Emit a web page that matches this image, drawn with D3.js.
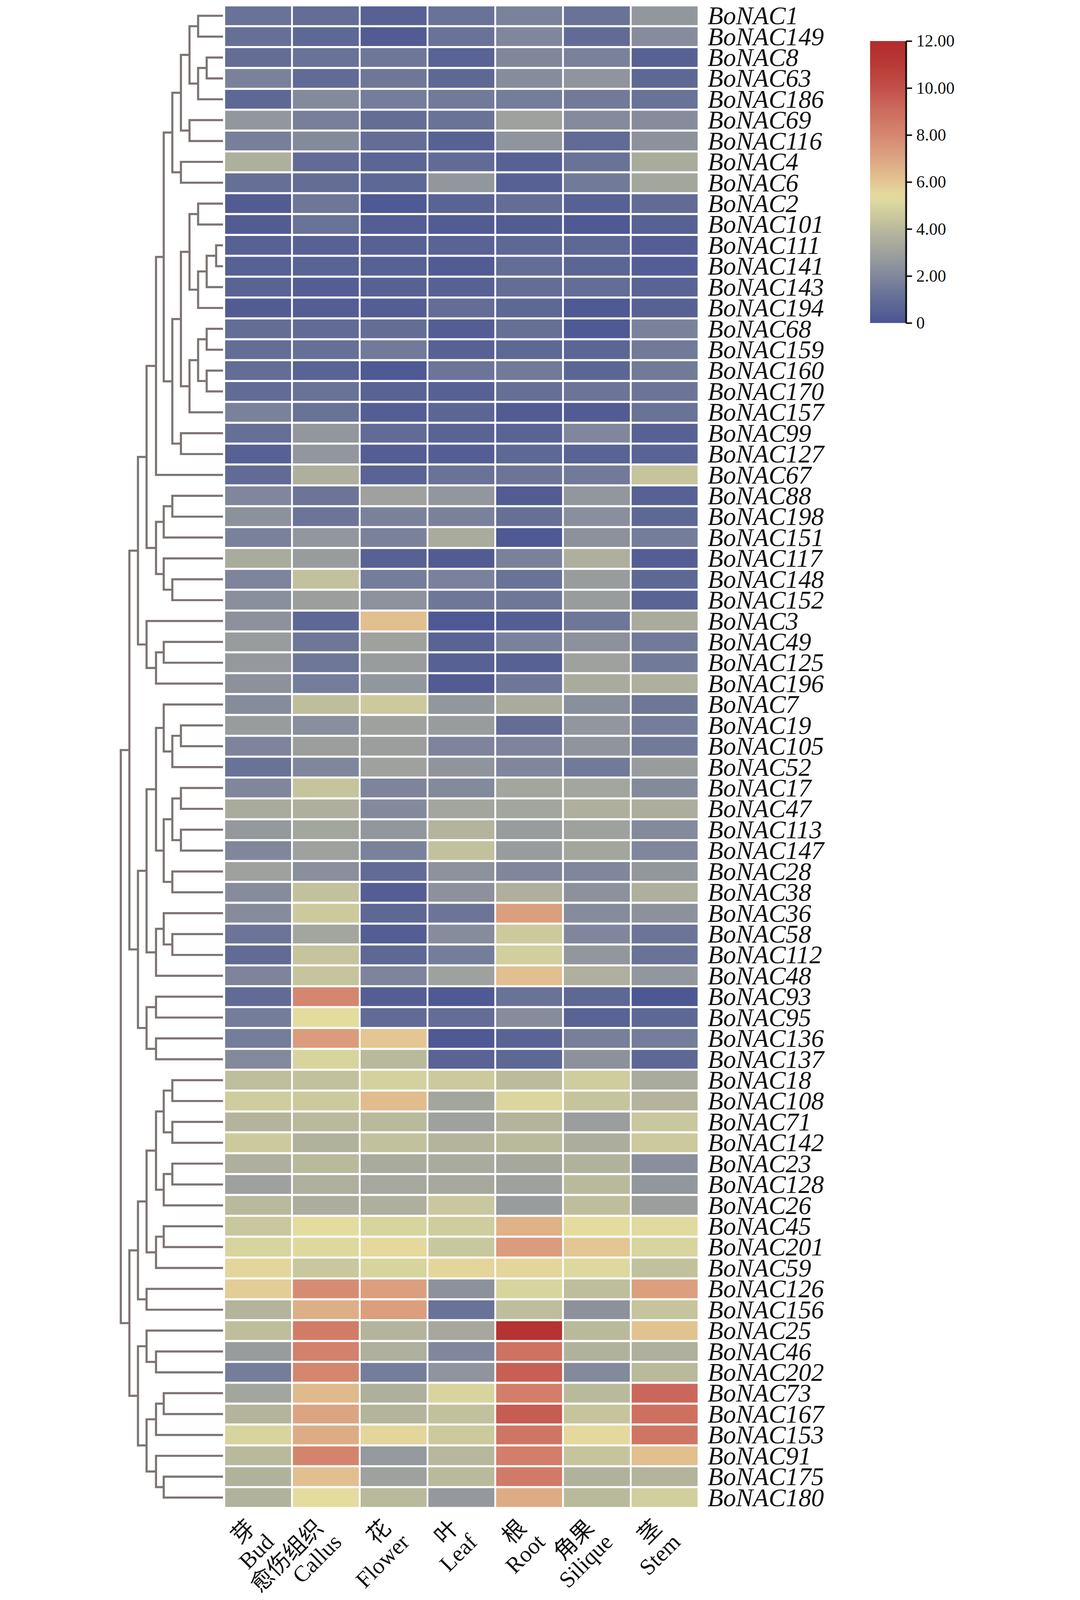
<!DOCTYPE html>
<html><head><meta charset="utf-8">
<script src="https://cdn.jsdelivr.net/npm/d3@7"></script>
<style>html,body{margin:0;padding:0;background:#fff;overflow:hidden}svg{display:block}</style>
</head><body>
<svg id="c" xmlns="http://www.w3.org/2000/svg"></svg>
<script>
// ---------------- data ----------------
const genes = ["BoNAC1","BoNAC149","BoNAC8","BoNAC63","BoNAC186","BoNAC69","BoNAC116","BoNAC4","BoNAC6","BoNAC2",
"BoNAC101","BoNAC111","BoNAC141","BoNAC143","BoNAC194","BoNAC68","BoNAC159","BoNAC160","BoNAC170","BoNAC157",
"BoNAC99","BoNAC127","BoNAC67","BoNAC88","BoNAC198","BoNAC151","BoNAC117","BoNAC148","BoNAC152","BoNAC3",
"BoNAC49","BoNAC125","BoNAC196","BoNAC7","BoNAC19","BoNAC105","BoNAC52","BoNAC17","BoNAC47","BoNAC113",
"BoNAC147","BoNAC28","BoNAC38","BoNAC36","BoNAC58","BoNAC112","BoNAC48","BoNAC93","BoNAC95","BoNAC136",
"BoNAC137","BoNAC18","BoNAC108","BoNAC71","BoNAC142","BoNAC23","BoNAC128","BoNAC26","BoNAC45","BoNAC201",
"BoNAC59","BoNAC126","BoNAC156","BoNAC25","BoNAC46","BoNAC202","BoNAC73","BoNAC167","BoNAC153","BoNAC91",
"BoNAC175","BoNAC180"];

const tissuesZh = ["芽","愈伤组织","花","叶","根","角果","茎"];
const tissuesEn = ["Bud","Callus","Flower","Leaf","Root","Silique","Stem"];

const bud = [1.2,1.1,1.0,1.8,0.8,2.6,1.7,3.6,1.1,0.3, 0.3,0.5,0.5,0.6,0.3,1.0,1.0,1.0,0.9,1.8, 1.1,0.5,0.9,2.0,2.4,1.8,3.4,1.9,2.3,2.4, 2.8,2.7,2.4,2.2,2.8,1.9,1.2,2.0,3.4,2.7, 2.0,3.0,2.2,2.2,1.3,0.9,1.9,0.9,1.6,1.6, 2.1,4.2,4.7,3.8,4.6,3.6,3.0,4.0,4.5,5.0, 5.6,5.8,3.8,4.2,2.8,1.6,3.2,3.8,5.0,4.0, 3.7,3.7];
const callus = [1.0,0.8,1.2,0.9,2.1,1.7,2.1,0.9,1.0,1.4, 1.2,0.5,0.6,0.4,0.4,0.9,1.1,0.6,1.2,1.2, 2.6,2.6,3.6,1.3,1.3,2.6,2.8,4.3,2.9,0.8, 1.4,1.4,1.6,4.2,2.3,2.9,2.0,4.4,3.6,3.2, 3.0,2.3,4.3,4.6,3.2,4.4,4.4,8.0,5.4,7.3, 5.0,4.3,4.6,4.0,3.7,4.0,3.6,3.5,5.4,5.2, 4.5,7.8,6.7,8.4,8.2,8.0,6.4,7.0,6.8,8.1, 6.2,5.4];
const flower = [0.5,0.3,1.4,1.4,1.6,1.0,1.0,0.7,0.8,0.2, 0.4,0.5,0.5,0.5,0.4,1.0,1.5,0.2,0.6,0.4, 0.9,0.4,0.6,3.0,1.8,1.8,0.5,1.6,2.4,6.2, 3.0,2.8,2.6,4.6,3.0,2.9,3.0,1.9,2.1,2.6, 1.8,0.9,0.4,0.8,0.4,0.8,1.9,0.4,0.9,6.0, 4.0,4.9,6.3,4.0,4.3,3.4,3.3,3.6,5.0,5.5, 5.0,7.2,7.2,3.8,3.6,1.6,3.6,3.8,5.6,2.7, 3.0,4.0];
const leaf = [1.2,1.2,0.6,0.8,1.5,1.2,0.5,0.9,2.6,0.6, 0.3,0.6,0.3,0.5,1.0,0.4,0.5,1.3,0.5,0.7, 0.6,0.4,1.2,2.6,1.8,3.4,0.3,1.8,1.4,0.2, 0.6,0.5,0.3,2.6,2.8,1.9,2.5,2.1,3.2,3.8, 4.3,2.4,2.4,1.3,2.2,1.6,3.0,0.2,1.0,0.2, 0.6,4.6,3.2,3.0,3.8,3.4,3.3,4.5,4.7,4.5, 5.6,2.4,1.2,3.3,2.0,2.5,5.0,4.3,4.6,3.9, 4.0,2.7];
const root = [1.8,2.0,2.0,2.2,1.6,3.0,2.5,0.5,0.5,1.0, 0.3,0.8,1.0,1.0,0.8,1.1,0.8,1.5,1.1,0.3, 0.6,0.8,1.3,0.3,1.1,0.2,1.8,1.2,1.4,0.4, 1.8,0.5,1.4,3.4,1.0,1.9,2.0,3.2,3.2,2.8, 2.8,2.0,3.6,7.2,4.6,4.8,6.2,1.2,2.2,0.6, 0.8,4.1,5.1,3.8,4.0,3.3,3.0,2.8,6.6,7.3, 5.6,5.0,4.2,11.5,8.8,9.5,8.3,9.6,8.7,8.3, 8.5,6.8];
const silique = [1.2,0.9,1.8,2.5,1.5,2.1,0.9,1.2,1.5,0.5, 0.2,0.8,0.7,1.0,0.2,0.2,0.7,0.7,1.3,0.3, 2.0,0.6,1.5,2.6,2.3,2.4,3.6,2.8,2.8,1.4, 2.4,3.0,3.4,2.3,2.6,2.5,1.5,3.2,3.6,3.0, 3.2,2.0,2.4,2.2,2.0,2.6,3.6,0.8,0.6,1.7, 2.4,4.7,4.4,2.9,3.5,3.7,4.0,4.2,5.4,6.0, 5.2,4.2,2.4,4.0,3.7,2.1,4.0,4.4,5.5,4.4, 3.7,4.0];
const stem = [2.6,2.2,0.5,0.8,1.2,2.2,2.4,3.4,3.2,0.9, 0.5,0.4,0.4,0.6,0.5,1.8,1.5,1.5,1.3,1.2, 0.5,0.6,4.4,0.5,0.8,1.6,0.4,0.8,0.6,3.4, 1.5,1.5,3.6,1.4,1.6,1.5,2.8,2.1,3.5,2.1, 2.0,2.6,3.6,2.4,1.3,1.2,2.6,0.1,0.8,1.6, 0.8,3.4,3.8,4.5,4.6,2.3,2.6,2.9,5.3,5.0, 4.3,7.2,4.4,6.1,3.6,4.0,9.2,8.9,8.7,6.2, 3.8,4.8];

const colorbarTicks = [0,2,4,6,8,10,12];
const colorStops = [0,1,2,3,4,5,5.4,6,7,8,9,10,11,12];
const colorValues = ["#4a5492","#636d96","#80879c","#9ea19d","#b9b99c","#d8d49e","#e4dc9f","#e3c692","#dca582","#d5866f","#cd6d5e","#c3504a","#b83a35","#b22b2b"];

// dendrogram: N(height, left, right)
const N = (h, a, b) => ({h, c:[a, b]});
const dendro = N(11.9,
  N(10.9,
    N(9.9,
      N(8.9,
        N(7.8,
          N(6.9,
            N(5.9,
              N(4.9,
                N(3.9, N(2.9,"BoNAC1","BoNAC149"), N(2.9, N(1.9,"BoNAC8","BoNAC63"), "BoNAC186")),
                N(3.9,"BoNAC69","BoNAC116")),
              N(4.9,"BoNAC4","BoNAC6")),
            N(5.9,
              N(4.9,
                N(3.9, N(2.9,"BoNAC2","BoNAC101"), N(2.9, N(1.9, N(0.8,"BoNAC111","BoNAC141"),"BoNAC143"),"BoNAC194")),
                N(3.9, N(2.9, N(1.9,"BoNAC68","BoNAC159"), N(1.9,"BoNAC160","BoNAC170")), "BoNAC157")),
              N(4.9,"BoNAC99","BoNAC127"))),
          "BoNAC67"),
        N(7.8,
          N(6.9, N(5.9,"BoNAC88","BoNAC198"), "BoNAC151"),
          N(6.9, "BoNAC117", N(5.9,"BoNAC148","BoNAC152")))),
      N(8.9, "BoNAC3", N(7.8, N(6.9,"BoNAC49","BoNAC125"), "BoNAC196"))),
    N(9.9,
      N(8.9,
        N(7.8,
          N(6.9, "BoNAC7", N(5.9, N(4.9,"BoNAC19","BoNAC105"), "BoNAC52")),
          N(6.9, N(5.9, N(4.9,"BoNAC17","BoNAC47"), N(4.9,"BoNAC113","BoNAC147")), N(5.9,"BoNAC28","BoNAC38"))),
        N(7.8, N(6.9,"BoNAC36", N(5.9,"BoNAC58","BoNAC112")), "BoNAC48")),
      N(8.9, N(7.8,"BoNAC93","BoNAC95"), N(7.8,"BoNAC136","BoNAC137")))),
  N(10.9,
    N(9.9,
      N(8.9,
        N(7.8,
          N(6.9, N(5.9,"BoNAC18","BoNAC108"), N(5.9,"BoNAC71","BoNAC142")),
          N(6.9, N(5.9,"BoNAC23","BoNAC128"), "BoNAC26")),
        N(7.8, N(6.9,"BoNAC45","BoNAC201"), "BoNAC59")),
      N(8.9,"BoNAC126","BoNAC156")),
    N(9.9,
      N(8.9,"BoNAC25", N(7.8,"BoNAC46","BoNAC202")),
      N(8.9,
        N(7.8, N(6.9,"BoNAC73","BoNAC167"), "BoNAC153"),
        N(7.8, "BoNAC91", N(6.9,"BoNAC175","BoNAC180"))))));

// ---------------- drawing ----------------
const W = 2764, H = 5251;
const series = [bud, callus, flower, leaf, root, silique, stem];
const svg = d3.select("#c")
  .attr("viewBox", `0 -10 ${W} ${H + 10}`)
  .attr("preserveAspectRatio", "xMidYMid meet")
  .style("width", "100vw").style("height", "100vh");
svg.append("rect").attr("y",-10).attr("width",W).attr("height",H + 10).attr("fill","#fff");

const serif = "'Liberation Serif','Times New Roman',serif";
const cjk = "'Noto Sans CJK SC','Noto Sans CJK JP',sans-serif";

const x = d3.scaleBand().domain(tissuesEn).range([347, 1900]).paddingInner(0.027);
const y = d3.scaleBand().domain(genes).range([11, 4945]).paddingInner(0.1);
const color = d3.scaleLinear().domain(colorStops).range(colorValues).clamp(true);

const cells = [];
genes.forEach((g, i) => tissuesEn.forEach((t, j) => cells.push({g, t, v: series[j][i]})));

svg.append("g").selectAll("rect").data(cells).join("rect")
  .attr("x", d => x(d.t)).attr("y", d => y(d.g))
  .attr("width", x.bandwidth()).attr("height", y.bandwidth())
  .attr("fill", d => color(d.v));

// row labels
svg.append("g").selectAll("text").data(genes).join("text")
  .attr("x", 1933).attr("y", d => y(d) + y.bandwidth()/2 + 28)
  .attr("font-family", serif).attr("font-style","italic").attr("font-size", 84)
  .attr("fill","#111").text(d => d);

// column labels
const colG = svg.append("g").selectAll("text").data(tissuesEn).join("text")
  .attr("transform", d => `translate(${x(d) + x.bandwidth()/2 - 40},4983) rotate(-45)`)
  .attr("text-anchor","end").attr("fill","#111").attr("font-size", 75);
colG.append("tspan").attr("x",0).attr("y",50).attr("font-family", cjk)
  .text((d,i) => tissuesZh[i]);
colG.append("tspan").attr("x",10).attr("y",126).attr("font-family", serif)
  .text(d => d);

// dendrogram
const hx = d3.scaleLinear().domain([0, 11.9]).range([340, 4]);
const dg = svg.append("g").attr("fill","none").attr("stroke","#7d7472")
  .attr("stroke-width", 7).attr("stroke-linejoin","miter").attr("stroke-linecap","butt");
function layout(node) {
  if (typeof node === "string") return {x: hx(0), y: y(node) + y.bandwidth()/2};
  const a = layout(node.c[0]), b = layout(node.c[1]);
  const nx = hx(node.h);
  dg.append("path").attr("d", `M${a.x},${a.y}H${nx}V${b.y}H${b.x}`);
  return {x: nx, y: (a.y + b.y)/2};
}
layout(dendro);

// colorbar
const cb = d3.scaleLinear().domain([0,12]).range([1052,125]);
const defs = svg.append("defs");
const grad = defs.append("linearGradient").attr("id","cbg")
  .attr("x1",0).attr("y1",1).attr("x2",0).attr("y2",0);
d3.range(0, 12.01, 0.25).forEach(v => {
  grad.append("stop").attr("offset", v/12).attr("stop-color", color(v));
});
svg.append("rect").attr("x",2467).attr("y",125).attr("width",116).attr("height",927)
  .attr("fill","url(#cbg)");
const ax = svg.append("g").attr("transform","translate(2585,0)")
  .call(d3.axisRight(cb).tickValues(colorbarTicks).tickSize(20).tickSizeOuter(0).tickPadding(14)
    .tickFormat(d => d === 0 ? "0" : d.toFixed(2)));
ax.select(".domain").attr("stroke","#111").attr("stroke-width",6);
ax.selectAll(".tick line").attr("stroke","#111").attr("stroke-width",5);
ax.selectAll(".tick text").attr("font-family", serif).attr("font-size",56).attr("fill","#111");
</script>
</body></html>
